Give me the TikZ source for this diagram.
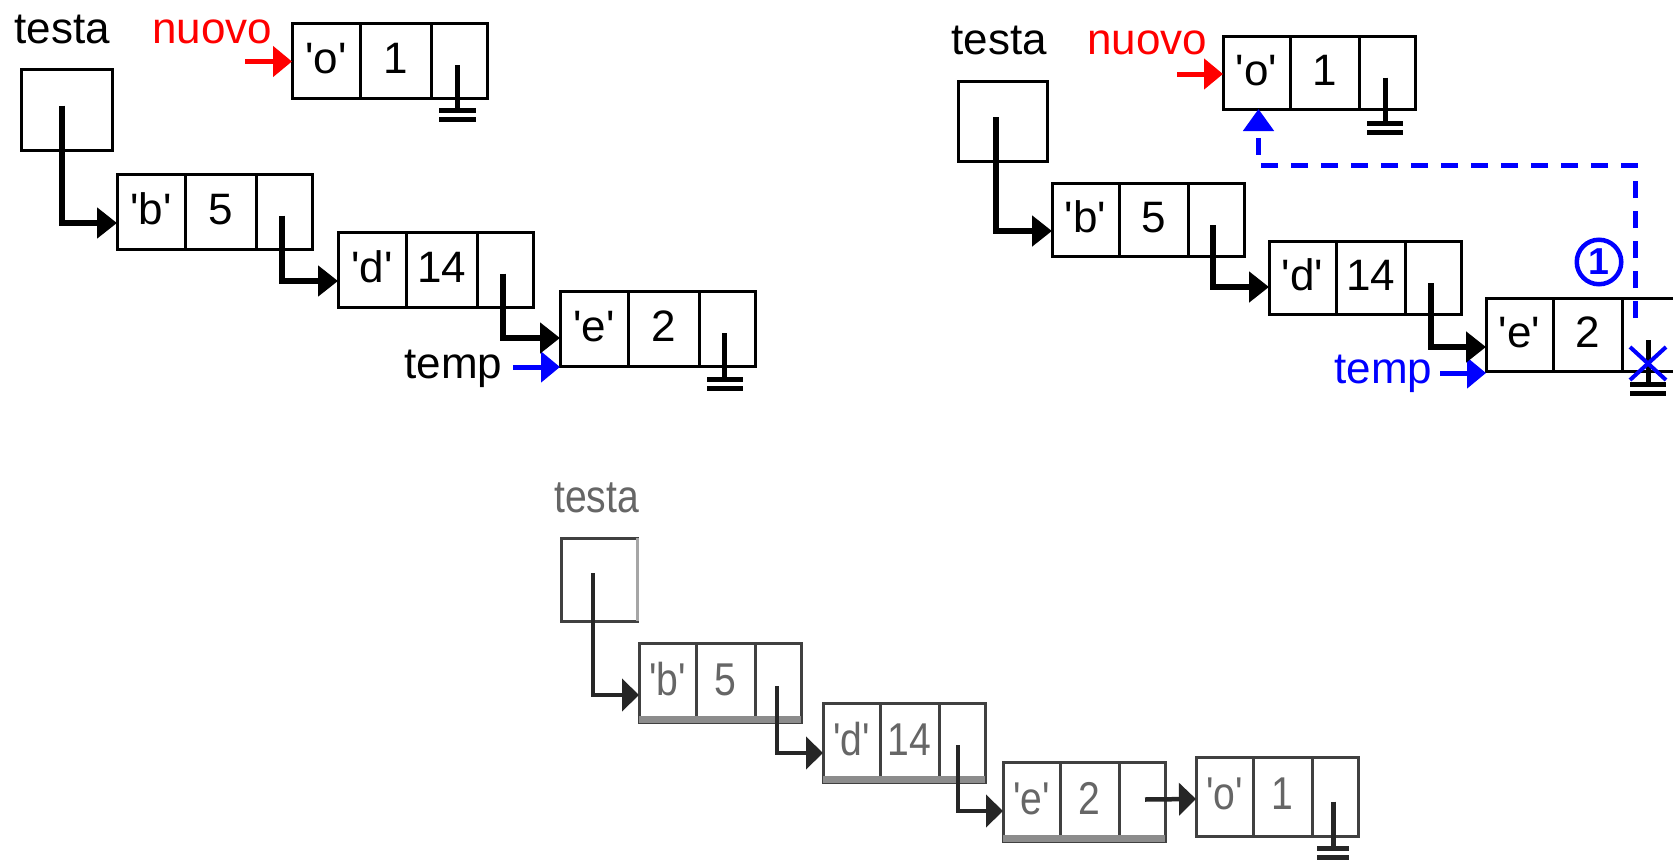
\documentclass[tikz,border=0pt]{standalone}
\usepackage{fontspec}
\newfontfamily\lab{Liberation Sans}
\newfontfamily\labn{Liberation Sans}[FakeStretch=0.85]
\usetikzlibrary{arrows.meta,calc}

% one drawing unit = one pixel of the layout
\newcommand\pxu{0.6pt}

% three-cell list element: #1 name, #2 x, #3 y, #4-#6 cell widths, #7 height, #8 key, #9 value
\newcommand\record[9]{%
  \node[cell, minimum width=#4*\pxu, minimum height=#7*\pxu] (#1-a) at (#2,#3) {#8};
  \node[cell, minimum width=#5*\pxu, minimum height=#7*\pxu] (#1-b) at (#1-a.north east) {#9};
  \node[cell, minimum width=#6*\pxu, minimum height=#7*\pxu] (#1-c) at (#1-b.north east) {};
}

% NULL pointer (ground symbol): #1 cell, #2 x shift, #3 stem start below centre,
% #4 gap under the cell, #5 bar width
\newcommand\ground[5]{%
  \draw[line width=3pt] ($(#1.center)+(#2,#3)$) -- ($(#1.south)+(#2,#4)$);
  \fill ($(#1.south)+({#2-#5/2},#4)$) rectangle ++(#5,5);
  \fill ($(#1.south)+({#2-#5/2},{#4+9})$) rectangle ++(#5,5);
}

\begin{document}
\begin{tikzpicture}[x=0.6pt, y=-0.6pt,
  cellstyle/.style={draw, line width=1.8pt, font=\lab\fontsize{26.4}{30}\selectfont},
  cell/.style={cellstyle, anchor=north west, inner sep=0pt, outer sep=0pt,
               text height=19pt, text depth=3.7pt},
  box/.style={cellstyle, anchor=north west, inner sep=0pt, outer sep=0pt},
  lbl/.style={anchor=base west, inner sep=0pt, font=\lab\fontsize{26.4}{30}\selectfont},
  ptr/.style={line width=3.6pt, -{Triangle[length=12pt,width=18pt]}},
  thinptr/.style={line width=3pt, -{Triangle[length=11.4pt,width=18pt]}},
  dashptr/.style={blue, line width=3pt, dash pattern=on 10.2pt off 7.8pt,
                  -{Triangle[length=13.2pt,width=18pt]}},
  bptr/.style={draw=black!85, line width=2.7pt, -{Triangle[length=10.2pt,width=19.2pt]}},
  numcircle/.style={circle, draw=blue, line width=2.7pt, minimum size=26.7pt,
                    inner sep=0pt, text=blue, font=\lab\bfseries\fontsize{22.5}{24}\selectfont}
]
\useasboundingbox[fill=white] (0,0) rectangle (1673,859);
\clip (0,0) rectangle (1673,859);

% ---------- list before the insertion ----------
\node[lbl] (testa1) at (14,43) {testa};
\node[lbl, text=red] (nuovo1) at (152,43) {nuovo};
\node[lbl] (temp1) at (404,378) {temp};

\node[box, minimum width=91*\pxu, minimum height=81*\pxu] (t1) at (21,69) {};
\record{o1}{292}{23}{68}{71}{56}{75}{'o'}{1}
\record{b1}{117}{174}{68}{71}{56}{75}{'b'}{5}
\record{d1}{338}{232}{68}{71}{56}{75}{'d'}{14}
\record{e1}{560}{291}{68}{71}{56}{75}{'e'}{2}

\ground{o1-c}{-2}{4.5}{10}{37}
\ground{e1-c}{-2.5}{4.5}{11}{36}

\coordinate (nv1) at ($(o1-a.west)+(-47,1)$);
\draw[thinptr, red] (nv1) -- (nv1 -| o1-a.west);
\coordinate (tp1) at ($(e1-a.south west)+(-47,1)$);
\draw[thinptr, blue] (tp1) -- (tp1 -| e1-a.west);

\draw[ptr] ($(t1.center)+(-5,-4)$) |- ($(b1-a.north west)+(0,49)$);
\draw[ptr] ($(b1-c.center)+(-2,4)$) |- ($(d1-a.north west)+(0,49)$);
\draw[ptr] ($(d1-c.center)+(-2,4)$) |- ($(e1-a.north west)+(0,47)$);

% ---------- step 1: last element points to the new one ----------
\node[lbl] (testa2) at (951,55) {testa};
\node[lbl, text=red] (nuovo2) at (1087,55) {nuovo};
\node[lbl, text=blue] (temp2) at (1334,383) {temp};

\node[box, minimum width=89*\pxu, minimum height=80*\pxu] (t2) at (958,81) {};
\record{o2}{1223}{36}{67}{69}{56}{73}{'o'}{1}
\record{b2}{1052}{183}{67}{69}{56}{73}{'b'}{5}
\record{d2}{1269}{241}{67}{69}{56}{73}{'d'}{14}
\record{e2}{1486}{298}{67}{69}{60}{73}{'e'}{2}

\ground{o2-c}{-2}{5}{12}{36}
\ground{e2-c}{-4}{5.5}{11}{36}
\draw[blue, line width=2.4pt]
  ($(e2-c.south)+(-22,-24)$) -- ($(e2-c.south)+(14,9)$)
  ($(e2-c.south)+(14,-24)$) -- ($(e2-c.south)+(-22,9)$);

\coordinate (nv2) at ($(o2-a.west)+(-46,1.5)$);
\draw[thinptr, red] (nv2) -- (nv2 -| o2-a.west);
\coordinate (tp2) at ($(e2-a.south west)+(-46,2)$);
\draw[thinptr, blue] (tp2) -- (tp2 -| e2-a.west);

\draw[ptr] ($(t2.center)+(-6.5,-4)$) |- ($(b2-a.north west)+(0,48)$);
\draw[ptr] ($(b2-c.center)+(-3,5.5)$) |- ($(d2-a.north west)+(0,46)$);
\draw[ptr] ($(d2-c.center)+(-2,5.5)$) |- ($(e2-a.north west)+(0,49)$);

\draw[dashptr] ($(e2-c.north west)+(13,20)$) |- ($(o2-a.south)+(2,56)$)
  -- ($(o2-a.south)+(2,0)$);
\node[numcircle] (n1) at (1599,262) {1};

% ---------- list after the insertion ----------
\begin{scope}[cellstyle/.style={draw=black!75, line width=1.8pt, text=black!60,
              font=\labn\fontsize{27.6}{30}\selectfont}]
\node[lbl, font=\labn\fontsize{27.6}{30}\selectfont, text=black!60] (testa3) at (554,512) {testa};

\node[box, minimum width=76*\pxu, minimum height=83*\pxu] (t3) at (561,538) {};
\draw[black!35, line width=1.8pt] (t3.north east) -- (t3.south east);
\record{b3}{639}{643}{57}{59}{46}{79}{'b'}{5}
\record{d3}{823}{703}{57}{59}{46}{79}{'d'}{14}
\record{e3}{1003}{762}{57}{59}{46}{79}{'e'}{2}
\record{o3}{1196}{757}{57}{59}{46}{79}{'o'}{1}

\foreach \r in {b3,d3,e3}
  \fill[black!45] ($(\r-a.south west)+(0,-6)$) rectangle ($(\r-c.south east)+(0,1)$);

\begin{scope}[black!85]
\ground{o3-c}{-2}{5}{10}{32}
\end{scope}

\draw[bptr] ($(t3.center)+(-6,-6.5)$) |- ($(b3-a.north west)+(0,52)$);
\draw[bptr] ($(b3-c.center)+(-1,3.5)$) |- ($(d3-a.north west)+(0,50)$);
\draw[bptr] ($(d3-c.center)+(-4,2.5)$) |- ($(e3-a.north west)+(0,49)$);
\draw[bptr] ($(e3-c.center)+(3,-2)$) -- ($(o3-a.west)+(0,2.5)$);
\end{scope}
\end{tikzpicture}
\end{document}
